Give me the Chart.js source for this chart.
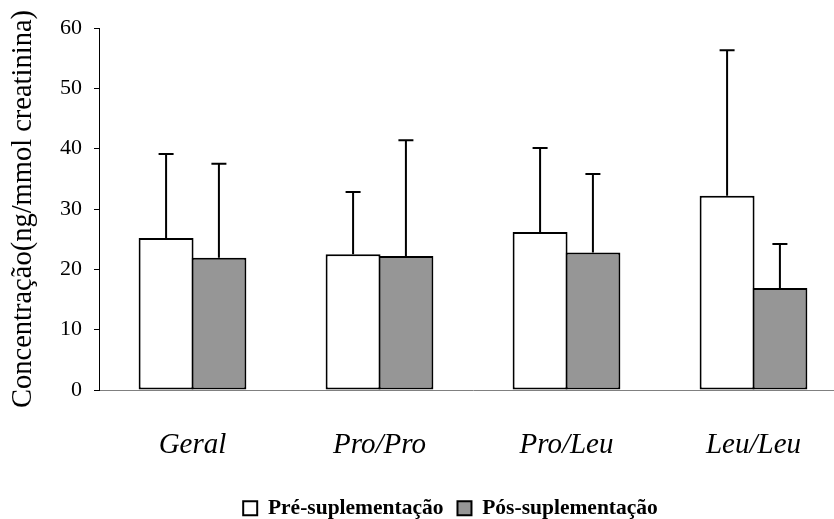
<!DOCTYPE html>
<html>
<head>
<meta charset="utf-8">
<script src="https://cdn.jsdelivr.net/npm/chart.js@4/dist/chart.umd.min.js"></script>
<style>
  html, body { margin: 0; padding: 0; background: #fff; overflow: hidden; }
  #wrap { width: 834px; height: 519px; overflow: hidden; }
</style>
</head>
<body>
<div id="wrap"><canvas id="chart" width="848" height="519"></canvas></div>
<script>
// categories and values
const groups = ['Geral', 'Pro/Pro', 'Pro/Leu', 'Leu/Leu'];
const preValues = [25.2, 22.5, 26.2, 32.2];
const preSD = [13.9, 10.3, 13.9, 24.1];
const postValues = [21.9, 22.2, 22.8, 16.9];
const postSD = [15.6, 19.2, 13.0, 7.3];
const yTicks = [0, 10, 20, 30, 40, 50, 60];

const serif = '"Liberation Serif", "Times New Roman", serif';

// vertical error bars (upper side only), drawn from the bar top
const errorBars = {
    id: 'errorBars',
    afterDatasetsDraw(chart) {
        const ctx = chart.ctx;
        const y = chart.scales.y;
        chart.data.datasets.forEach((ds, i) => {
            chart.getDatasetMeta(i).data.forEach((bar, j) => {
                const top = y.getPixelForValue(ds.data[j] + ds.sd[j]);
                ctx.save();
                ctx.strokeStyle = '#000';
                ctx.lineWidth = 2;
                ctx.beginPath();
                ctx.moveTo(bar.x, bar.y);
                ctx.lineTo(bar.x, top);
                ctx.moveTo(bar.x - 7.5, top);
                ctx.lineTo(bar.x + 7.5, top);
                ctx.stroke();
                ctx.restore();
            });
        });
    }
};

// small nudge so the legend sits where it is in the figure
const legendNudge = {
    id: 'legendNudge',
    afterLayout(chart) {
        const lg = chart.legend;
        lg.top += 10; lg.bottom += 10;
        lg.left += 27; lg.right += 27;
    }
};

new Chart(document.getElementById('chart'), {
    type: 'bar',
    data: {
        labels: groups,
        datasets: [{
            label: 'Pré-suplementação',
            data: preValues,
            sd: preSD,
            backgroundColor: '#ffffff',
            borderColor: '#000000',
            borderWidth: 2,
            borderSkipped: false
        }, {
            label: 'Pós-suplementação',
            data: postValues,
            sd: postSD,
            backgroundColor: '#969696',
            borderColor: '#000000',
            borderWidth: 2,
            borderSkipped: false
        }]
    },
    options: {
        responsive: false,
        animation: false,
        devicePixelRatio: 1,
        categoryPercentage: 0.565,
        barPercentage: 1.04,
        layout: { padding: { top: 28, left: 0, right: 1, bottom: 0 } },
        plugins: {
            tooltip: { enabled: false },
            legend: {
                position: 'bottom',
                labels: {
                    boxWidth: 14,
                    boxHeight: 14,
                    padding: 14,
                    color: '#000',
                    font: { family: serif, size: 21.5, weight: 'bold' }
                }
            }
        },
        scales: {
            x: {
                grid: { display: false },
                border: { color: '#808080', width: 1 },
                ticks: {
                    color: '#000',
                    padding: 30,
                    maxRotation: 0,
                    font: { family: serif, size: 29, style: 'italic' }
                },
                afterFit(scale) { scale.height = 83.5; }
            },
            y: {
                min: 0,
                max: 60,
                afterBuildTicks(scale) { scale.ticks = yTicks.map(v => ({ value: v })); },
                grid: { drawOnChartArea: false, tickLength: 5, color: '#000' },
                border: { color: '#000', width: 1 },
                ticks: {
                    color: '#000',
                    padding: 12,
                    font: { family: serif, size: 22 }
                },
                title: {
                    display: true,
                    text: 'Concentração(ng/mmol creatinina)',
                    color: '#000',
                    padding: { top: 6, bottom: 0 },
                    font: { family: serif, size: 28.5 }
                },
                afterFit(scale) { scale.width = 99; }
            }
        }
    },
    plugins: [errorBars, legendNudge]
});
</script>
</body>
</html>
